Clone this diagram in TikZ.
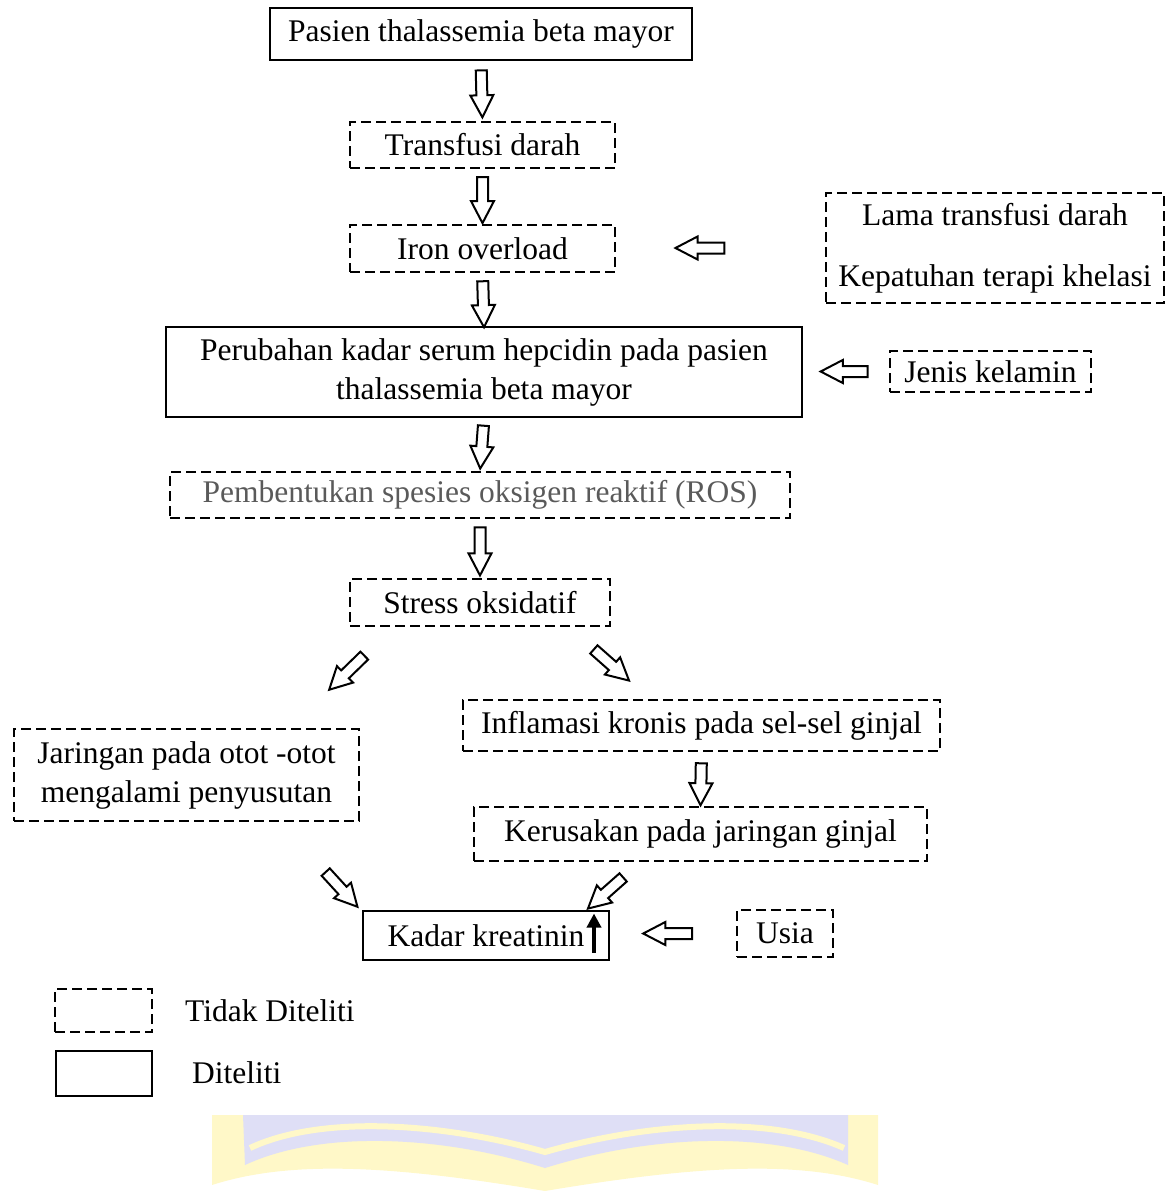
\documentclass[tikz,border=0pt]{standalone}
\usepackage{fontspec}
\setmainfont{Liberation Serif}
\usetikzlibrary{shapes.arrows,arrows.meta,calc}
\definecolor{wmyellow}{HTML}{FFF8C8}
\definecolor{wmlav}{HTML}{DFDFF6}
\definecolor{rosgray}{HTML}{5A5A5A}
\tikzset{
  base/.style={font=\fontsize{31.5}{39}\selectfont, text=black, inner sep=0pt, align=center},
  solidbox/.style={base, draw, line width=2pt},
  dashbox/.style={base, draw, line width=2pt, dash pattern=on 10pt off 5pt},
  harrow/.style={single arrow, draw=black, fill=white, line width=2pt, inner sep=0pt,
    text height=4.5pt, text depth=4.5pt, text width=0pt, minimum width=1pt,
    single arrow head extend=6pt, single arrow tip angle=55, sloped, allow upside down},
  upblack/.style={line width=3.5pt, -{Triangle[length=14pt,width=14pt]}}
}
\begin{document}
\begin{tikzpicture}[x=1pt,y=-1pt]
\useasboundingbox (0,0) rectangle (1173,1191);
% watermark (faint logo fragment)
\fill[wmyellow] (212,1115) -- (878,1115) -- (878,1185)
  .. controls (800,1160) and (700,1165) .. (545,1191)
  .. controls (390,1165) and (290,1160) .. (212,1185) -- cycle;
\fill[wmlav] (243,1115) -- (848,1115) -- (848,1165)
  .. controls (770,1130) and (650,1135) .. (545,1168)
  .. controls (440,1135) and (320,1130) .. (245,1165) -- cycle;
\draw[wmyellow, line width=6pt] (250,1148)
  .. controls (320,1115) and (440,1122) .. (545,1152)
  .. controls (650,1122) and (770,1115) .. (844,1148);

% nodes
\node[solidbox, minimum width=422, minimum height=52] (pasien) at (481,34) {Pasien thalassemia beta mayor};
\node[dashbox, minimum width=265, minimum height=46] (transfusi) at (482.5,145) {Transfusi darah};
\node[dashbox, minimum width=265, minimum height=47] (iron) at (482.5,248.5) {Iron overload};
\node[solidbox, minimum width=636, minimum height=90] (perubahan) at (484,372) {Perubahan kadar serum hepcidin pada pasien\\thalassemia beta mayor};
\node[dashbox, minimum width=620, minimum height=46, text=rosgray] (ros) at (480,495) {Pembentukan spesies oksigen reaktif (ROS)};
\node[dashbox, minimum width=260, minimum height=47] (stress) at (480,602.5) {Stress oksidatif};
\node[dashbox, minimum width=345, minimum height=92] (jaringan) at (186.5,775) {Jaringan pada otot -otot\\mengalami penyusutan};
\node[dashbox, minimum width=477, minimum height=51] (inflamasi) at (701.5,725.5) {Inflamasi kronis pada sel-sel ginjal};
\node[dashbox, minimum width=453, minimum height=54] (kerusakan) at (700.5,834) {Kerusakan pada jaringan ginjal};
\node[solidbox, minimum width=246, minimum height=49] (kadar) at (486,935.5) {Kadar kreatinin};
\node[dashbox, minimum width=96, minimum height=47] (usia) at (785,933.5) {Usia};
\node[dashbox, minimum width=338, minimum height=110] (lama) at (995,248) {Lama transfusi darah\\[22pt]Kepatuhan terapi khelasi};
\node[dashbox, minimum width=201, minimum height=41] (jenis) at (990.5,371.5) {Jenis kelamin};

% legend
\node[dashbox, minimum width=97, minimum height=43] (legdash) at (103.5,1010.5) {};
\node[base, anchor=west] (legdashtxt) at (185,1011) {Tidak Diteliti};
\node[solidbox, minimum width=96, minimum height=45] (legsolid) at (104,1073.5) {};
\node[base, anchor=west] (legsolidtxt) at (192,1073) {Diteliti};

% up arrow inside kadar
\draw[upblack] ($(kadar.east)+(-16,17)$) -- ($(kadar.east)+(-16,-22)$);

% vertical main arrows
\path (pasien.south) -- node[harrow, pos=0.46, minimum height=47] {} (transfusi.north);
\path (transfusi.south) -- node[harrow, pos=0.47, minimum height=46] {} (iron.north);
\path (iron.south) -- node[harrow, pos=0.49, minimum height=46] {} (perubahan.north);
\path (perubahan.south) -- node[harrow, pos=0.45, minimum height=43] {} (ros.north);
\path (ros.south) -- node[harrow, pos=0.46, minimum height=48] {} (stress.north);
\path (inflamasi.south) -- node[harrow, pos=0.5, minimum height=42] {} (kerusakan.north);

% side arrows pointing left
\path (lama.west) -- node[harrow, pos=0.573, minimum height=49] {} (iron.east |- lama.west);
\path (jenis.west) -- node[harrow, pos=0.46, minimum height=47] {} (perubahan.east |- jenis.west);
\path (usia.west) -- node[harrow, pos=0.5, minimum height=49] {} (usia.west -| kadar.east);

% diagonal arrows
\coordinate (d1s) at (368,652); \coordinate (d1e) at (333,686);
\coordinate (d2s) at (590,646); \coordinate (d2e) at (625,677);
\coordinate (d3s) at (322,868); \coordinate (d3e) at (354,903);
\coordinate (d4s) at (627,874); \coordinate (d4e) at (592,905);
\path (d1s) -- node[harrow, minimum height=49] {} (d1e);
\path (d2s) -- node[harrow, minimum height=47] {} (d2e);
\path (d3s) -- node[harrow, minimum height=47] {} (d3e);
\path (d4s) -- node[harrow, minimum height=47] {} (d4e);
\end{tikzpicture}
\end{document}
